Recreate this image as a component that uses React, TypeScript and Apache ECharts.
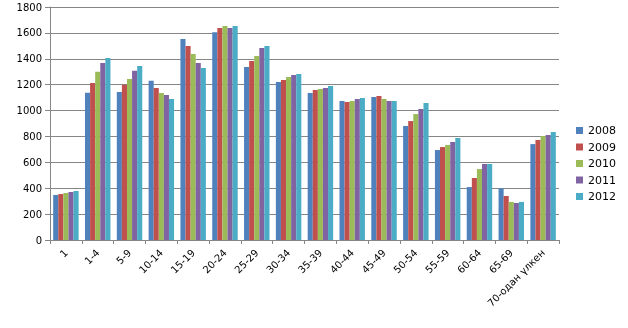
import React, { useEffect, useRef } from "react";
import * as echarts from "echarts";

const categories = ["1", "1-4", "5-9", "10-14", "15-19", "20-24", "25-29", "30-34", "35-39", "40-44", "45-49", "50-54", "55-59", "60-64", "65-69", "70-одан үлкен"];
const years = ["2008", "2009", "2010", "2011", "2012"];
const s2008 = [348, 1138, 1143, 1231, 1553, 1604, 1336, 1221, 1136, 1074, 1105, 881, 695, 409, 399, 741];
const s2009 = [355, 1213, 1200, 1174, 1499, 1638, 1383, 1236, 1159, 1066, 1112, 919, 718, 479, 340, 773];
const s2010 = [363, 1300, 1244, 1136, 1437, 1653, 1421, 1259, 1166, 1074, 1089, 973, 734, 548, 294, 803];
const s2011 = [371, 1367, 1308, 1120, 1367, 1638, 1483, 1275, 1174, 1089, 1074, 1012, 757, 587, 286, 811];
const s2012 = [378, 1406, 1344, 1089, 1329, 1653, 1499, 1282, 1190, 1097, 1074, 1058, 788, 587, 294, 834];
const seriesData = [s2008, s2009, s2010, s2011, s2012];
const colors = ["#4F81BD", "#C0504D", "#9BBB59", "#8064A2", "#4BACC6"];

export default function App() {
  const ref = useRef<HTMLDivElement>(null);
  useEffect(() => {
    const chart = echarts.init(ref.current!, null, { renderer: "svg" });
    chart.setOption({
      animation: false,
      color: colors,
      textStyle: { fontFamily: "DejaVu Sans" },
      grid: { left: 50, right: 69, top: 7, bottom: 88, containLabel: false },
      legend: {
        orient: "vertical",
        left: 576,
        top: 125,
        width: 52,
        itemWidth: 7,
        itemHeight: 7,
        itemGap: 5.5,
        icon: "rect",
        padding: 0,
        textStyle: { fontSize: 11, color: "#000", fontFamily: "DejaVu Sans", overflow: "none" },
        data: years,
      },
      xAxis: {
        type: "category",
        data: categories,
        axisLine: { lineStyle: { color: "#868686", width: 1 } },
        axisTick: { show: true, alignWithLabel: false, length: 4, lineStyle: { color: "#868686" } },
        axisLabel: { interval: 0, rotate: 45, fontSize: 10, color: "#000", margin: 11, fontFamily: "DejaVu Sans" },
      },
      yAxis: {
        type: "value",
        min: 0,
        max: 1800,
        interval: 200,
        axisLine: { show: true, lineStyle: { color: "#868686", width: 1 } },
        axisTick: { show: true, length: 5, lineStyle: { color: "#868686" } },
        splitLine: { lineStyle: { color: "#868686", width: 1 } },
        axisLabel: { fontSize: 10, color: "#000", margin: 8, fontFamily: "DejaVu Sans", formatter: (v: number) => String(v) },
      },
      series: years.map((y, i) => ({
        name: y,
        type: "bar",
        data: seriesData[i],
        barGap: "0%",
        barCategoryGap: "20%",
        itemStyle: { color: colors[i] },
      })),
    });
    return () => chart.dispose();
  }, []);
  return <div ref={ref} style={{ position: "fixed", left: 0, top: 0, width: 628, height: 328 }} />;
}
